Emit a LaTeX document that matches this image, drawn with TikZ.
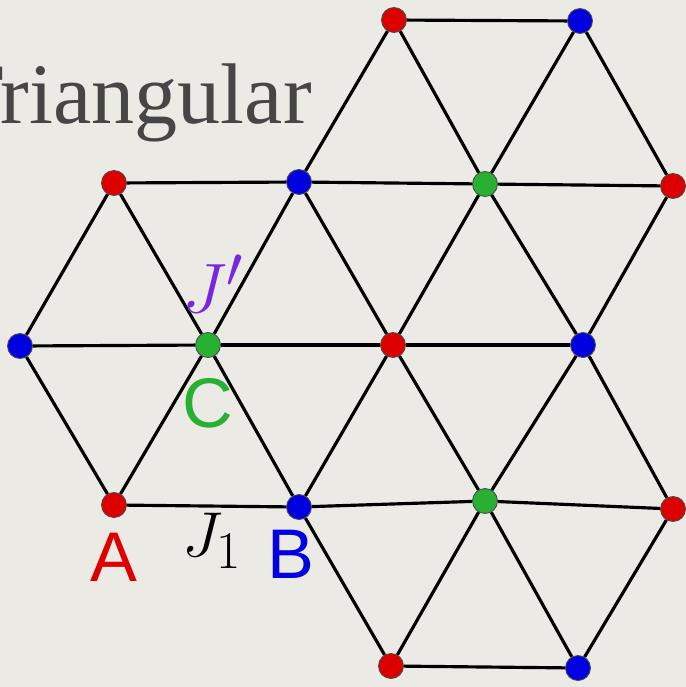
\documentclass[tikz,border=0pt]{standalone}
\usepackage{fontspec}
\newfontfamily\labfont{Liberation Sans}
\newfontfamily\titlefont{Liberation Serif}
\definecolor{paper}{RGB}{236,234,229}
\definecolor{dotred}{RGB}{220,0,0}
\definecolor{dotblue}{RGB}{0,0,225}
\definecolor{dotgreen}{RGB}{40,176,50}
\definecolor{jpurple}{RGB}{120,40,220}
\definecolor{titlegray}{RGB}{70,70,70}
\begin{document}
\begin{tikzpicture}[x=0.02cm,y=-0.02cm,
  site/.style={circle,draw=black!70,line width=0.5pt,minimum size=0.5cm,inner sep=0pt},
  rs/.style={site,fill=dotred},
  bs/.style={site,fill=dotblue},
  gs/.style={site,fill=dotgreen},
  bond/.style={line width=1.8pt,black},
  mlab/.style={inner sep=0pt,font=\fontsize{24.88}{28}\selectfont}]
\fill[paper] (0,0) rectangle (686,687);
\useasboundingbox (0,0) rectangle (686,687);
\node[anchor=base east,text=titlegray,inner sep=0pt,font=\titlefont\fontsize{49}{54}\selectfont] (title) at (312,123) {Triangular};
% sites
\node[rs] (r0a) at (394,20) {};
\node[bs] (r0b) at (580,21) {};
\node[rs] (r1a) at (114,183) {};
\node[bs] (r1b) at (299,182) {};
\node[gs] (r1c) at (485,184) {};
\node[rs] (r1d) at (673,186) {};
\node[bs] (r2a) at (20,346) {};
\node[gs] (r2b) at (208,345) {};
\node[rs] (r2c) at (393,345) {};
\node[bs] (r2d) at (583,345) {};
\node[rs] (r3a) at (114,505) {};
\node[bs] (r3b) at (299,507) {};
\node[gs] (r3c) at (485,501) {};
\node[rs] (r3d) at (673,509) {};
\node[rs] (r4a) at (391,666) {};
\node[bs] (r4b) at (578,668) {};
% bonds
\draw[bond] (r0a)--(r0b);
\draw[bond] (r1a)--(r1b); \draw[bond] (r1b)--(r1c); \draw[bond] (r1c)--(r1d);
\draw[bond] (r2a)--(r2b); \draw[bond] (r2b)--(r2c); \draw[bond] (r2c)--(r2d);
\draw[bond] (r3a)--(r3b); \draw[bond] (r3b)--(r3c); \draw[bond] (r3c)--(r3d);
\draw[bond] (r4a)--(r4b);
\draw[bond] (r1b)--(r0a); \draw[bond] (r0a)--(r1c); \draw[bond] (r0b)--(r1c); \draw[bond] (r0b)--(r1d);
\draw[bond] (r1a)--(r2a); \draw[bond] (r1a)--(r2b); \draw[bond] (r1b)--(r2b); \draw[bond] (r1b)--(r2c);
\draw[bond] (r1c)--(r2c); \draw[bond] (r1c)--(r2d); \draw[bond] (r1d)--(r2d);
\draw[bond] (r2a)--(r3a); \draw[bond] (r2b)--(r3a); \draw[bond] (r2b)--(r3b); \draw[bond] (r2c)--(r3b);
\draw[bond] (r2c)--(r3c); \draw[bond] (r2d)--(r3c); \draw[bond] (r2d)--(r3d);
\draw[bond] (r3b)--(r4a); \draw[bond] (r3c)--(r4a); \draw[bond] (r3c)--(r4b); \draw[bond] (r3d)--(r4b);
% labels
\node[text=dotred,font=\labfont\fontsize{40}{44}\selectfont,inner sep=0pt] (labA) at (114,557) {A};
\node[text=dotblue,font=\labfont\fontsize{40}{44}\selectfont,inner sep=0pt] (labB) at (291,554) {B};
\node[text=dotgreen,font=\labfont\fontsize{40}{44}\selectfont,inner sep=0pt] (labC) at (208,403) {C};
\node[mlab,text=jpurple,scale=1.6] (labJp) at (213,284) {$J'$};
\node[mlab,text=black,scale=1.45] (labJ1) at (212,541) {$J_1$};
\end{tikzpicture}
\end{document}
